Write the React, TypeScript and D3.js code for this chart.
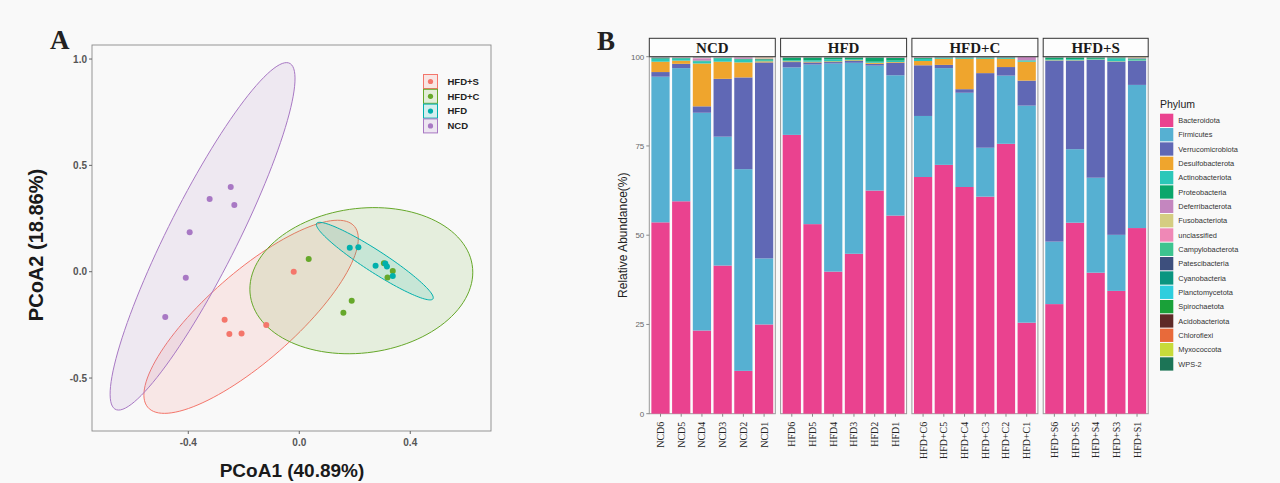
import React from "react";
import * as d3 from "d3";

// ---- panel A: PCoA scores ----
const groups = ["HFD+S", "HFD+C", "HFD", "NCD"];
const groupColors = ["#F4766B", "#66A82A", "#00B0AD", "#A878C4"];

const pc1HFDS = [-0.02, -0.269, -0.252, -0.208, -0.119];
const pc2HFDS = [0.0, -0.226, -0.293, -0.291, -0.25];
const pc1HFDC = [0.034, 0.305, 0.337, 0.318, 0.189, 0.159];
const pc2HFDC = [0.06, 0.04, 0.003, -0.027, -0.136, -0.193];
const pc1HFD = [0.182, 0.213, 0.275, 0.31, 0.316, 0.337];
const pc2HFD = [0.113, 0.115, 0.028, 0.039, 0.024, -0.02];
const pc1NCD = [-0.247, -0.323, -0.234, -0.395, -0.409, -0.483];
const pc2NCD = [0.398, 0.342, 0.314, 0.185, -0.028, -0.213];

const pc1 = [pc1HFDS, pc1HFDC, pc1HFD, pc1NCD];
const pc2 = [pc2HFDS, pc2HFDC, pc2HFD, pc2NCD];

const xTicksA = [-0.4, 0, 0.4];
const yTicksA = [-0.5, 0, 0.5, 1.0];

// F(0.95; 2, n-1) quantiles for the 95% t-ellipse
const fQuantile: Record<number, number> = { 5: 6.944272, 6: 5.786135 };

// ---- panel B: relative abundance ----
const samples = [
  "NCD6", "NCD5", "NCD4", "NCD3", "NCD2", "NCD1",
  "HFD6", "HFD5", "HFD4", "HFD3", "HFD2", "HFD1",
  "HFD+C6", "HFD+C5", "HFD+C4", "HFD+C3", "HFD+C2", "HFD+C1",
  "HFD+S6", "HFD+S5", "HFD+S4", "HFD+S3", "HFD+S1",
];
const facets = ["NCD", "HFD", "HFD+C", "HFD+S"];
const facetSizes = [6, 6, 6, 5];

const phyla = [
  "Bacteroidota", "Firmicutes", "Verrucomicrobiota", "Desulfobacterota",
  "Actinobacteriota", "Proteobacteria", "Deferribacterota", "Fusobacteriota",
  "unclassified", "Campylobacterota", "Patescibacteria", "Cyanobacteria",
  "Planctomycetota", "Spirochaetota", "Acidobacteriota", "Chloroflexi",
  "Myxococcota", "WPS-2",
];
const phylaColors = [
  "#EA428F", "#56B0D2", "#6068B5", "#EFA52D", "#2BC7B9", "#0AA66B",
  "#C486BF", "#D5CD82", "#EF88B6", "#3DC48F", "#3D4F7D", "#0B9580",
  "#2ECEDE", "#1AA139", "#5E2A27", "#E86A3A", "#C8DB3A", "#1C7456",
];

const bacteroidota = [53.6, 59.5, 23.3, 41.5, 12.0, 25.0, 78.1, 53.1, 39.8, 44.8, 62.5, 55.5, 66.3, 69.7, 63.5, 60.8, 75.6, 25.5, 30.7, 53.5, 39.5, 34.4, 52.0];
const firmicutes = [40.8, 37.3, 61.0, 36.1, 56.5, 18.5, 18.9, 44.7, 58.3, 53.5, 35.0, 39.3, 17.1, 27.1, 26.4, 13.7, 19.1, 60.8, 17.5, 20.6, 26.6, 15.7, 40.1];
const verrucomicrobiota = [1.3, 1.2, 1.8, 16.2, 25.7, 54.9, 1.5, 0.6, 0.4, 0.5, 0.5, 3.5, 14.2, 0.9, 1.0, 20.9, 2.4, 7.0, 50.7, 24.8, 33.0, 48.5, 6.7];
const desulfobacterota = [2.9, 0.9, 12.0, 4.8, 4.2, 0.3, 0.2, 0.2, 0.2, 0.2, 0.3, 0.2, 1.2, 1.7, 8.5, 4.0, 2.3, 5.3, 0.1, 0.1, 0.1, 0.1, 0.1];
const actinobacteriota = [0.8, 0.6, 0.6, 0.9, 0.8, 0.3, 0.3, 0.4, 0.6, 0.3, 0.3, 0.4, 0.6, 0.2, 0.2, 0.2, 0.2, 0.3, 0.2, 0.3, 0.2, 0.8, 0.3];
const proteobacteria = [0.2, 0.2, 0.2, 0.2, 0.2, 0.3, 0.8, 0.8, 0.5, 0.5, 1.2, 0.8, 0.3, 0.2, 0.2, 0.2, 0.2, 0.1, 0.6, 0.5, 0.4, 0.3, 0.3];
const deferribacterota = [0.1, 0.1, 0.6, 0.1, 0.4, 0.2, 0.0, 0.0, 0.0, 0.0, 0.0, 0.1, 0.1, 0.1, 0.1, 0.1, 0.1, 0.9, 0.0, 0.0, 0.0, 0.0, 0.2];
const fusobacteriota = [0.0, 0.0, 0.0, 0.0, 0.0, 0.3, 0.0, 0.0, 0.0, 0.0, 0.0, 0.0, 0.0, 0.0, 0.0, 0.0, 0.0, 0.0, 0.0, 0.0, 0.0, 0.0, 0.2];
const unclassified = [0.1, 0.1, 0.3, 0.1, 0.1, 0.1, 0.1, 0.1, 0.1, 0.1, 0.1, 0.1, 0.1, 0.05, 0.05, 0.05, 0.05, 0.05, 0.1, 0.1, 0.1, 0.1, 0.05];
const campylobacterota = [0.05, 0.05, 0.1, 0.05, 0.05, 0.05, 0.1, 0.05, 0.05, 0.05, 0.05, 0.05, 0.05, 0.05, 0.05, 0.05, 0.05, 0.05, 0.05, 0.05, 0.05, 0.05, 0.05];
const patescibacteria = [0.04, 0.03, 0.05, 0.04, 0.04, 0.03, 0.04, 0.03, 0.03, 0.03, 0.03, 0.03, 0.03, 0.02, 0.02, 0.02, 0.02, 0.02, 0.03, 0.03, 0.03, 0.03, 0.03];
const cyanobacteria = [0.03, 0.02, 0.03, 0.02, 0.02, 0.02, 0.02, 0.02, 0.02, 0.02, 0.02, 0.02, 0.02, 0.02, 0.02, 0.02, 0.02, 0.02, 0.02, 0.02, 0.02, 0.02, 0.02];
const planctomycetota = [0.04, 0.03, 0.03, 0.03, 0.03, 0.03, 0.03, 0.03, 0.03, 0.03, 0.03, 0.03, 0.03, 0.02, 0.02, 0.02, 0.02, 0.02, 0.02, 0.02, 0.02, 0.02, 0.02];
const spirochaetota = [0.02, 0.02, 0.02, 0.02, 0.02, 0.02, 0.02, 0.02, 0.02, 0.02, 0.02, 0.02, 0.02, 0.02, 0.02, 0.02, 0.02, 0.02, 0.02, 0.02, 0.02, 0.02, 0.02];
const acidobacteriota = [0.01, 0.01, 0.01, 0.01, 0.01, 0.01, 0.01, 0.01, 0.01, 0.01, 0.01, 0.01, 0.01, 0.01, 0.01, 0.01, 0.01, 0.01, 0.01, 0.01, 0.01, 0.01, 0.01];
const chloroflexi = [0.01, 0.01, 0.01, 0.01, 0.01, 0.01, 0.01, 0.01, 0.01, 0.01, 0.01, 0.01, 0.01, 0.01, 0.01, 0.01, 0.01, 0.01, 0.01, 0.01, 0.01, 0.01, 0.01];
const myxococcota = [0.01, 0.01, 0.01, 0.01, 0.01, 0.01, 0.01, 0.01, 0.01, 0.01, 0.01, 0.01, 0.01, 0.01, 0.01, 0.01, 0.01, 0.01, 0.01, 0.01, 0.01, 0.01, 0.01];
const wps2 = [0.01, 0.01, 0.01, 0.01, 0.01, 0.01, 0.01, 0.01, 0.01, 0.01, 0.01, 0.01, 0.01, 0.01, 0.01, 0.01, 0.01, 0.01, 0.01, 0.01, 0.01, 0.01, 0.01];

const abundance = [
  bacteroidota, firmicutes, verrucomicrobiota, desulfobacterota, actinobacteriota,
  proteobacteria, deferribacterota, fusobacteriota, unclassified, campylobacterota,
  patescibacteria, cyanobacteria, planctomycetota, spirochaetota, acidobacteriota,
  chloroflexi, myxococcota, wps2,
];
const yTicksB = [0, 25, 50, 75, 100];

const SANS = "'Liberation Sans', Arial, sans-serif";
const SERIF = "'Liberation Serif', 'Times New Roman', serif";

// 95% t-ellipse like ggplot's stat_ellipse, in data units
function ellipsePoints(xs: number[], ys: number[], segs = 120) {
  const n = xs.length;
  const mx = d3.mean(xs)!;
  const my = d3.mean(ys)!;
  let sxx = 0, syy = 0, sxy = 0;
  for (let i = 0; i < n; i++) {
    sxx += (xs[i] - mx) ** 2;
    syy += (ys[i] - my) ** 2;
    sxy += (xs[i] - mx) * (ys[i] - my);
  }
  sxx /= n - 1; syy /= n - 1; sxy /= n - 1;
  const tr = sxx + syy;
  const det = sxx * syy - sxy * sxy;
  const disc = Math.sqrt(tr * tr / 4 - det);
  const l1 = tr / 2 + disc;
  const l2 = tr / 2 - disc;
  let e1 = [sxy, l1 - sxx];
  const len = Math.hypot(e1[0], e1[1]);
  e1 = [e1[0] / len, e1[1] / len];
  const e2 = [-e1[1], e1[0]];
  const r = Math.sqrt(2 * fQuantile[n]);
  const a = r * Math.sqrt(l1);
  const b = r * Math.sqrt(Math.max(l2, 0));
  return d3.range(segs + 1).map((i) => {
    const t = (i / segs) * 2 * Math.PI;
    return [
      mx + a * Math.cos(t) * e1[0] + b * Math.sin(t) * e2[0],
      my + a * Math.cos(t) * e1[1] + b * Math.sin(t) * e2[1],
    ];
  });
}

const PanelA = () => {
  const left = 92, right = 491, top = 45, bottom = 431;
  const x = d3.scaleLinear().domain([-0.747, 0.691]).range([left, right]);
  const y = d3.scaleLinear().domain([-0.749, 1.066]).range([bottom, top]);
  const line = d3.line<number[]>().x((d) => x(d[0])).y((d) => y(d[1]));

  return (
    <g>
      <text x={50} y={49} fontFamily={SERIF} fontWeight="bold" fontSize={27} fill="#222">A</text>
      <rect x={left} y={top} width={right - left} height={bottom - top} fill="#f9f9f9" stroke="#8a8a8a" strokeWidth={0.9} />
      {groups.map((g, gi) => (
        <path key={g} d={line(ellipsePoints(pc1[gi], pc2[gi]))!} fill={groupColors[gi]} fillOpacity={0.13} stroke={groupColors[gi]} strokeWidth={1} />
      ))}
      {groups.map((g, gi) =>
        pc1[gi].map((v, i) => (
          <circle key={g + i} cx={x(v)} cy={y(pc2[gi][i])} r={3} fill={groupColors[gi]} />
        ))
      )}
      {yTicksA.map((t) => (
        <g key={t} transform={`translate(${left},${y(t)})`}>
          <line x1={-3} x2={0} stroke="#666" />
          <text x={-5} dy="0.35em" textAnchor="end" fontFamily={SANS} fontWeight="bold" fontSize={10} fill="#555">
            {t.toFixed(1)}
          </text>
        </g>
      ))}
      {xTicksA.map((t) => (
        <g key={t} transform={`translate(${x(t)},${bottom})`}>
          <line y1={0} y2={3} stroke="#666" />
          <text y={15} textAnchor="middle" fontFamily={SANS} fontWeight="bold" fontSize={10} fill="#555">
            {t.toFixed(1)}
          </text>
        </g>
      ))}
      <text x={292} y={477} textAnchor="middle" fontFamily={SANS} fontWeight="bold" fontSize={19} fill="#1a1a1a">
        PCoA1 (40.89%)
      </text>
      <text transform="translate(43,245) rotate(-90)" textAnchor="middle" fontFamily={SANS} fontWeight="bold" fontSize={20} fill="#1a1a1a">
        PCoA2 (18.86%)
      </text>
      {groups.map((g, gi) => {
        const cy = 81.5 + gi * 14.8;
        return (
          <g key={g}>
            <rect x={423.5} y={cy - 7} width={14} height={14} fill={groupColors[gi]} fillOpacity={0.15} stroke={groupColors[gi]} strokeWidth={1} />
            <circle cx={430.5} cy={cy} r={2.6} fill={groupColors[gi]} />
            <text x={447.5} y={cy} dy="0.35em" fontFamily={SANS} fontWeight="bold" fontSize={9.5} fill="#222">{g}</text>
          </g>
        );
      })}
    </g>
  );
};

const PanelB = () => {
  const axisX = 649.3, slot = 21, gap = 5.3;
  const top = 56.7, bottom = 413.7, stripTop = 38.3;
  const y = d3.scaleLinear().domain([0, 100]).range([bottom, top]);

  const rows = samples.map((s, i) => {
    const r: Record<string, number | string> = { sample: s };
    phyla.forEach((p, pi) => (r[p] = abundance[pi][i]));
    return r;
  });
  const series = d3.stack<Record<string, number | string>>().keys(phyla)(rows as any);

  let offset = 0;
  let x0 = axisX;
  const panels = facets.map((f, fi) => {
    const n = facetSizes[fi];
    const idx = d3.range(offset, offset + n);
    offset += n;
    const start = x0;
    const w = n * slot;
    x0 += w + gap;
    const xb = d3.scaleBand<number>().domain(idx).range([start, start + w]).paddingInner(0.12).paddingOuter(0.1);
    return { f, idx, start, w, xb };
  });

  return (
    <g>
      <text x={597} y={50} fontFamily={SERIF} fontWeight="bold" fontSize={27} fill="#222">B</text>
      {panels.map(({ f, idx, start, w, xb }) => (
        <g key={f}>
          <rect x={start} y={top} width={w} height={bottom - top} fill="#fcfcfc" stroke="#9a9a9a" strokeWidth={1} />
          {series.map((s, pi) =>
            idx.map((i) => {
              const d = s[i];
              const h = y(d[0]) - y(d[1]);
              if (h <= 0) return null;
              return <rect key={pi + "-" + i} x={xb(i)} y={y(d[1])} width={xb.bandwidth()} height={h} fill={phylaColors[pi]} />;
            })
          )}
          <rect x={start} y={stripTop} width={w} height={top - stripTop} fill="#fdfdfd" stroke="#333" strokeWidth={1} />
          <text x={start + w / 2} y={(stripTop + top) / 2} dy="0.35em" textAnchor="middle" fontFamily={SERIF} fontWeight="bold" fontSize={15} fill="#1a1a1a">
            {f}
          </text>
          {idx.map((i) => {
            const cx = xb(i)! + xb.bandwidth() / 2;
            return (
              <g key={i}>
                <line x1={cx} x2={cx} y1={bottom} y2={bottom + 3} stroke="#888" />
                <text transform={`translate(${cx + 3.5},${bottom + 8}) rotate(-90)`} textAnchor="end" fontFamily={SERIF} fontSize={10} fill="#222">
                  {samples[i]}
                </text>
              </g>
            );
          })}
        </g>
      ))}
      {yTicksB.map((t) => (
        <g key={t} transform={`translate(${axisX},${y(t)})`}>
          <line x1={-3} x2={0} stroke="#888" />
          <text x={-5} dy="0.35em" textAnchor="end" fontFamily={SANS} fontSize={8} fill="#666">{t}</text>
        </g>
      ))}
      <text transform={`translate(627,${(top + bottom) / 2}) rotate(-90)`} textAnchor="middle" fontFamily={SANS} fontSize={12} fill="#222">
        Relative Abundance(%)
      </text>
      <text x={1160} y={108} fontFamily={SANS} fontSize={10.5} fill="#222">Phylum</text>
      {phyla.map((p, pi) => {
        const cy = 120.3 + pi * 14.33;
        return (
          <g key={p}>
            <rect x={1160} y={cy - 6.6} width={13.3} height={13.3} fill={phylaColors[pi]} />
            <text x={1178.3} y={cy} dy="0.35em" fontFamily={SANS} fontSize={7.4} fill="#333">{p}</text>
          </g>
        );
      })}
    </g>
  );
};

export default function App() {
  return (
    <svg width={1280} height={483} style={{ position: "absolute", left: 0, top: 0, display: "block" }}>
      <rect width={1280} height={483} fill="#f9f9f9" />
      <PanelA />
      <PanelB />
    </svg>
  );
}
